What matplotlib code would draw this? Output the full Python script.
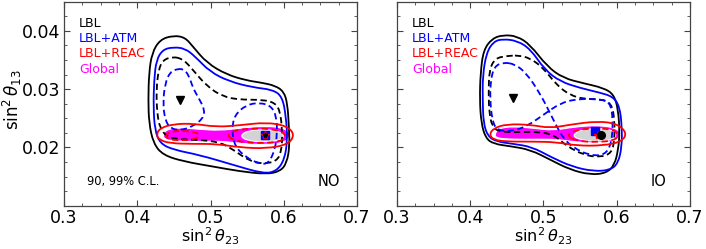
import matplotlib
matplotlib.use('Agg')
import matplotlib.pyplot as plt
from matplotlib.path import Path
from matplotlib.patches import PathPatch

# ---- contour outlines (sin^2 theta23, sin^2 theta13) ----
# Normal ordering (NO)
no_lbl99_x = [0.449, 0.431, 0.420, 0.416, 0.415, 0.416, 0.422, 0.435, 0.463, 0.504, 0.540, 0.576, 0.595, 0.604, 0.608, 0.607, 0.605, 0.600, 0.588, 0.570, 0.549, 0.522, 0.495, 0.476, 0.465]
no_lbl99_y = [0.0392, 0.0385, 0.0362, 0.0327, 0.0282, 0.0242, 0.0207, 0.0187, 0.0176, 0.0167, 0.0159, 0.0154, 0.0159, 0.0173, 0.0202, 0.0236, 0.0275, 0.0296, 0.0306, 0.0311, 0.0315, 0.0325, 0.0345, 0.0373, 0.0389]
no_lbl90_x = [0.449, 0.435, 0.429, 0.426, 0.427, 0.431, 0.440, 0.454, 0.485, 0.513, 0.531, 0.554, 0.572, 0.590, 0.597, 0.598, 0.595, 0.585, 0.563, 0.540, 0.517, 0.495, 0.476, 0.463]
no_lbl90_y = [0.0356, 0.0350, 0.0333, 0.0299, 0.0259, 0.0233, 0.0219, 0.0214, 0.0213, 0.0209, 0.0196, 0.0176, 0.0172, 0.0176, 0.0193, 0.0225, 0.0265, 0.0279, 0.0282, 0.0282, 0.0287, 0.0305, 0.0333, 0.0351]
no_atm99_x = [0.449, 0.435, 0.426, 0.423, 0.422, 0.424, 0.431, 0.449, 0.485, 0.531, 0.572, 0.590, 0.601, 0.605, 0.603, 0.598, 0.585, 0.558, 0.526, 0.499, 0.479, 0.465]
no_atm99_y = [0.0372, 0.0368, 0.0350, 0.0316, 0.0270, 0.0230, 0.0207, 0.0196, 0.0187, 0.0170, 0.0155, 0.0159, 0.0179, 0.0213, 0.0253, 0.0287, 0.0299, 0.0303, 0.0313, 0.0330, 0.0356, 0.0370]
no_atm90a_x = [0.456, 0.445, 0.438, 0.435, 0.438, 0.445, 0.458, 0.476, 0.490, 0.492, 0.485, 0.476, 0.470, 0.463]
no_atm90a_y = [0.0335, 0.0330, 0.0310, 0.0276, 0.0247, 0.0233, 0.0229, 0.0236, 0.0250, 0.0265, 0.0282, 0.0302, 0.0325, 0.0334]
no_atm90b_x = [0.567, 0.549, 0.533, 0.529, 0.533, 0.549, 0.567, 0.579, 0.588, 0.591, 0.590, 0.583]
no_atm90b_y = [0.0277, 0.0273, 0.0256, 0.0230, 0.0202, 0.0182, 0.0172, 0.0172, 0.0196, 0.0225, 0.0253, 0.0271]
no_reac99_x = [0.426, 0.431, 0.449, 0.476, 0.508, 0.540, 0.576, 0.604, 0.615, 0.606, 0.576, 0.540, 0.508, 0.476, 0.445, 0.430]
no_reac99_y = [0.0222, 0.0233, 0.0240, 0.0241, 0.0235, 0.0238, 0.0243, 0.0237, 0.0222, 0.0205, 0.0198, 0.0200, 0.0206, 0.0206, 0.0207, 0.0213]
no_reac90a_x = [0.438, 0.445, 0.463, 0.483, 0.485, 0.476, 0.454, 0.443]
no_reac90a_y = [0.0220, 0.0227, 0.0229, 0.0225, 0.0219, 0.0213, 0.0212, 0.0214]
no_reac90b_x = [0.522, 0.531, 0.558, 0.590, 0.604, 0.597, 0.567, 0.536]
no_reac90b_y = [0.0220, 0.0229, 0.0233, 0.0231, 0.0222, 0.0210, 0.0207, 0.0210]
no_glob99_x = [0.435, 0.440, 0.458, 0.485, 0.513, 0.540, 0.576, 0.601, 0.610, 0.603, 0.576, 0.540, 0.513, 0.485, 0.449, 0.437]
no_glob99_y = [0.0222, 0.0231, 0.0234, 0.0231, 0.0229, 0.0233, 0.0237, 0.0233, 0.0222, 0.0209, 0.0204, 0.0207, 0.0211, 0.0210, 0.0211, 0.0214]
no_glob90_x = [0.540, 0.551, 0.576, 0.595, 0.601, 0.595, 0.572, 0.549]
no_glob90_y = [0.0220, 0.0229, 0.0231, 0.0227, 0.0220, 0.0212, 0.0209, 0.0212]

# Inverted ordering (IO)
io_lbl99_x = [0.445, 0.430, 0.418, 0.414, 0.413, 0.415, 0.421, 0.432, 0.455, 0.482, 0.509, 0.536, 0.564, 0.586, 0.597, 0.602, 0.604, 0.602, 0.596, 0.582, 0.555, 0.527, 0.505, 0.482, 0.464]
io_lbl99_y = [0.0393, 0.0387, 0.0367, 0.0327, 0.0282, 0.0242, 0.0216, 0.0206, 0.0202, 0.0196, 0.0179, 0.0162, 0.0153, 0.0156, 0.0170, 0.0196, 0.0225, 0.0265, 0.0291, 0.0302, 0.0310, 0.0319, 0.0339, 0.0376, 0.0391]
io_lbl90_x = [0.450, 0.434, 0.426, 0.425, 0.426, 0.430, 0.439, 0.464, 0.491, 0.514, 0.532, 0.555, 0.577, 0.593, 0.597, 0.597, 0.593, 0.577, 0.555, 0.536, 0.518, 0.500, 0.482, 0.466]
io_lbl90_y = [0.0357, 0.0353, 0.0333, 0.0293, 0.0259, 0.0236, 0.0227, 0.0226, 0.0227, 0.0222, 0.0202, 0.0187, 0.0183, 0.0190, 0.0213, 0.0247, 0.0276, 0.0283, 0.0283, 0.0290, 0.0307, 0.0336, 0.0353, 0.0358]
io_atm99_x = [0.445, 0.432, 0.422, 0.417, 0.417, 0.418, 0.424, 0.436, 0.459, 0.484, 0.511, 0.539, 0.568, 0.591, 0.602, 0.607, 0.607, 0.604, 0.595, 0.577, 0.550, 0.523, 0.502, 0.482, 0.464]
io_atm99_y = [0.0386, 0.0382, 0.0362, 0.0322, 0.0282, 0.0242, 0.0219, 0.0210, 0.0206, 0.0201, 0.0183, 0.0167, 0.0159, 0.0161, 0.0173, 0.0202, 0.0236, 0.0270, 0.0287, 0.0294, 0.0302, 0.0313, 0.0333, 0.0369, 0.0383]
io_atm90_x = [0.445, 0.433, 0.428, 0.427, 0.430, 0.436, 0.455, 0.477, 0.500, 0.523, 0.545, 0.573, 0.591, 0.595, 0.593, 0.584, 0.564, 0.541, 0.527, 0.518, 0.509, 0.495, 0.477, 0.461]
io_atm90_y = [0.0346, 0.0339, 0.0316, 0.0282, 0.0247, 0.0230, 0.0227, 0.0236, 0.0256, 0.0276, 0.0283, 0.0283, 0.0279, 0.0247, 0.0207, 0.0187, 0.0186, 0.0199, 0.0216, 0.0236, 0.0259, 0.0293, 0.0327, 0.0343]
io_reac99_x = [0.426, 0.432, 0.450, 0.482, 0.509, 0.536, 0.573, 0.600, 0.614, 0.607, 0.582, 0.545, 0.518, 0.486, 0.450, 0.432]
io_reac99_y = [0.0222, 0.0233, 0.0240, 0.0239, 0.0233, 0.0239, 0.0245, 0.0241, 0.0225, 0.0210, 0.0203, 0.0203, 0.0209, 0.0210, 0.0210, 0.0213]
io_reac90_x = [0.532, 0.541, 0.568, 0.595, 0.602, 0.598, 0.573, 0.545]
io_reac90_y = [0.0220, 0.0229, 0.0233, 0.0231, 0.0222, 0.0212, 0.0209, 0.0211]
io_glob99_x = [0.433, 0.439, 0.459, 0.486, 0.514, 0.541, 0.573, 0.598, 0.607, 0.600, 0.577, 0.545, 0.518, 0.486, 0.455, 0.436]
io_glob99_y = [0.0222, 0.0233, 0.0236, 0.0233, 0.0229, 0.0235, 0.0238, 0.0234, 0.0223, 0.0212, 0.0207, 0.0209, 0.0214, 0.0214, 0.0214, 0.0216]
io_glob90_x = [0.539, 0.550, 0.577, 0.595, 0.600, 0.595, 0.573, 0.550]
io_glob90_y = [0.0220, 0.0230, 0.0233, 0.0229, 0.0222, 0.0213, 0.0210, 0.0213]

# best-fit points
no_bf_lbl = (0.458, 0.0281)
no_bf_atm = (0.574, 0.0221)
no_bf_glob = (0.574, 0.0221)
io_bf_lbl = (0.458, 0.0285)
io_bf_atm = (0.570, 0.0229)
io_bf_reac = (0.575, 0.0222)
io_bf_glob = (0.578, 0.0222)

legend_labels = ['LBL', 'LBL+ATM', 'LBL+REAC', 'Global']
legend_colors = ['black', '#0000ff', '#ff0000', '#ff00ff']


def closed_path(xs, ys):
	# smooth closed curve, read points used as quadratic bezier controls
	n = len(xs)
	mid = lambda i: ((xs[i % n] + xs[(i + 1) % n]) / 2, (ys[i % n] + ys[(i + 1) % n]) / 2)
	verts = [mid(-1)]
	codes = [Path.MOVETO]
	for i in range(n):
		verts += [(xs[i], ys[i]), mid(i)]
		codes += [Path.CURVE3, Path.CURVE3]
	return Path(verts, codes)


def contour(ax, xs, ys, color, ls='-', lw=1.3, fill=None, z=3):
	if fill is not None:
		ax.add_patch(PathPatch(closed_path(xs, ys), facecolor=fill, edgecolor='white', lw=0.8, zorder=z))
	else:
		ax.add_patch(PathPatch(closed_path(xs, ys), facecolor='none', edgecolor=color, lw=lw, ls=ls, zorder=z))


dash = (0, (3.5, 2.0))
plt.rcParams['figure.figsize'] = [7.06, 2.49]
plt.rcParams['figure.dpi'] = 100
fig = plt.figure()
ax1 = fig.add_axes([0.0907, 0.174, 0.415, 0.819])
ax2 = fig.add_axes([0.5623, 0.174, 0.415, 0.819])

for ax in (ax1, ax2):
	ax.set_xlim(0.3, 0.7)
	ax.set_ylim(0.01, 0.045)
	ax.set_xticks([0.3, 0.4, 0.5, 0.6, 0.7])
	ax.set_yticks([0.02, 0.03, 0.04])
	ax.set_xticks([0.3 + 0.025 * i for i in range(17)], minor=True)
	ax.set_yticks([0.01 + 0.0025 * i for i in range(15)], minor=True)
	ax.tick_params(which='both', direction='in', top=True, right=True, color='#444444')
	ax.tick_params(which='major', length=4, labelsize=12.5, pad=2.5)
	ax.tick_params(which='minor', length=2.5)
	for sp in ax.spines.values():
		sp.set_color('#444444')
		sp.set_linewidth(0.9)
	ax.set_xlabel(r'$\sin^2\theta_{23}$', fontsize=11.5, labelpad=-1)
	for i in range(4):
		ax.text(0.051, 0.894 - 0.075 * i, legend_labels[i], color=legend_colors[i], transform=ax.transAxes, fontsize=9, va='center', ha='left')

ax1.set_ylabel(r'$\sin^2\theta_{13}$', fontsize=12)
ax1.yaxis.set_label_coords(-0.135, 0.52)
ax2.set_yticklabels([])

# NO panel
contour(ax1, no_glob99_x, no_glob99_y, None, fill='#ff00ff', z=2)
contour(ax1, no_glob90_x, no_glob90_y, None, fill='#d3d3d3', z=2.5)
contour(ax1, no_lbl99_x, no_lbl99_y, 'black')
contour(ax1, no_lbl90_x, no_lbl90_y, 'black', ls=dash)
contour(ax1, no_atm99_x, no_atm99_y, '#0000ff')
contour(ax1, no_atm90a_x, no_atm90a_y, '#0000ff', ls=dash)
contour(ax1, no_atm90b_x, no_atm90b_y, '#0000ff', ls=dash)
contour(ax1, no_reac99_x, no_reac99_y, '#ff0000', z=4)
contour(ax1, no_reac90a_x, no_reac90a_y, '#ff0000', ls=dash, z=4)
contour(ax1, no_reac90b_x, no_reac90b_y, '#ff0000', ls=dash, z=4)
ax1.plot(*no_bf_lbl, marker='v', color='black', ms=6, zorder=6)
ax1.plot(*no_bf_atm, marker='s', color='#0000ff', ms=6, zorder=6)
ax1.plot(*no_bf_glob, marker='*', color='#ff0000', ms=6, zorder=7)
ax1.plot(*no_bf_glob, marker='*', color='black', ms=3.5, zorder=8)
ax1.text(0.078, 0.118, '90, 99% C.L.', transform=ax1.transAxes, fontsize=8.3, va='center', ha='left')
ax1.text(0.866, 0.118, 'NO', transform=ax1.transAxes, fontsize=10.5, va='center', ha='left')

# IO panel
contour(ax2, io_glob99_x, io_glob99_y, None, fill='#ff00ff', z=2)
contour(ax2, io_glob90_x, io_glob90_y, None, fill='#d3d3d3', z=2.5)
contour(ax2, io_lbl99_x, io_lbl99_y, 'black')
contour(ax2, io_lbl90_x, io_lbl90_y, 'black', ls=dash)
contour(ax2, io_atm99_x, io_atm99_y, '#0000ff')
contour(ax2, io_atm90_x, io_atm90_y, '#0000ff', ls=dash)
contour(ax2, io_reac99_x, io_reac99_y, '#ff0000', z=4)
contour(ax2, io_reac90_x, io_reac90_y, '#ff0000', ls=dash, z=4)
ax2.plot(*io_bf_lbl, marker='v', color='black', ms=6, zorder=6)
ax2.plot(*io_bf_atm, marker='s', color='#0000ff', ms=6, zorder=6)
ax2.plot(*io_bf_reac, marker='*', color='#ff0000', ms=6, zorder=7)
ax2.plot(*io_bf_glob, marker='o', color='black', ms=5.5, zorder=8)
ax2.text(0.866, 0.118, 'IO', transform=ax2.transAxes, fontsize=10.5, va='center', ha='left')

plt.savefig('out.png', dpi=100)
